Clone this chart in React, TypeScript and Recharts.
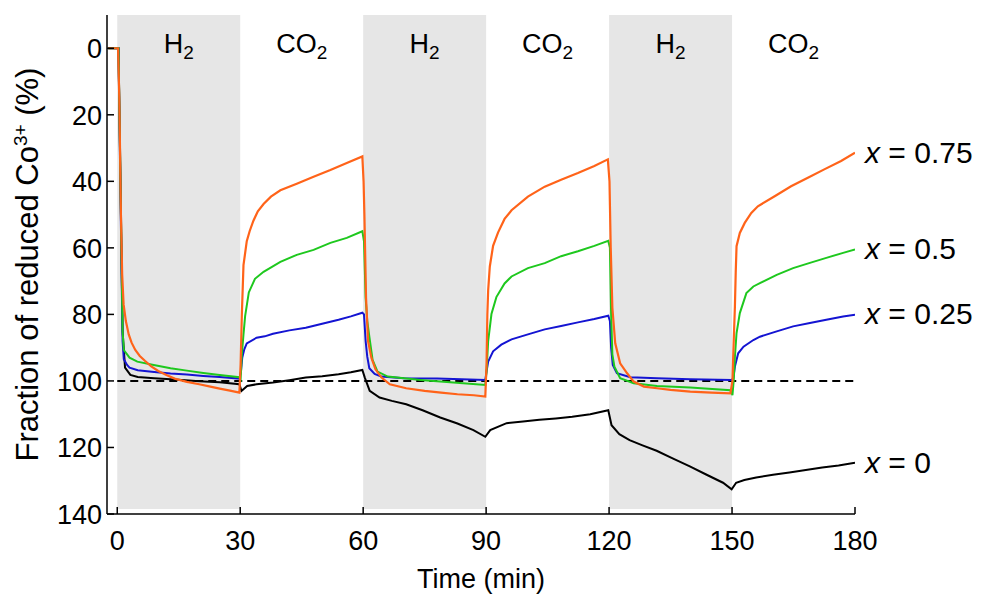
import React from 'react';
import {
  LineChart,
  Line,
  XAxis,
  YAxis,
  ReferenceArea,
  ReferenceLine,
  ReferenceDot,
} from 'recharts';

// time (min), fraction of reduced Co3+ (%)
const x0Series = [
  { t: -2.2, v: 0 }, { t: 0.3, v: 0 }, { t: 0.8, v: 40 }, { t: 1.3, v: 85 }, { t: 1.9, v: 96 },
  { t: 3.2, v: 98.2 }, { t: 5, v: 98.8 }, { t: 9, v: 99.2 }, { t: 14, v: 99.6 }, { t: 20, v: 100.1 },
  { t: 25, v: 100.4 }, { t: 29.8, v: 101 }, { t: 30.3, v: 103 }, { t: 31.7, v: 101.5 }, { t: 34, v: 101 },
  { t: 38, v: 100.5 }, { t: 42, v: 99.8 }, { t: 46, v: 99 }, { t: 50, v: 98.6 }, { t: 54, v: 98 },
  { t: 57, v: 97.4 }, { t: 59.8, v: 96.7 }, { t: 60.4, v: 99 }, { t: 61.6, v: 103 }, { t: 64, v: 105 },
  { t: 67, v: 106 }, { t: 70.5, v: 107 }, { t: 74.5, v: 108.8 }, { t: 78.8, v: 111 }, { t: 83, v: 112.8 },
  { t: 86.9, v: 114.8 }, { t: 89.8, v: 116.8 }, { t: 91, v: 114.8 }, { t: 95, v: 112.7 }, { t: 99, v: 112.2 },
  { t: 103, v: 111.7 }, { t: 107, v: 111.3 }, { t: 111, v: 110.8 }, { t: 115.4, v: 110 }, { t: 119.8, v: 108.8 },
  { t: 120.6, v: 113.3 }, { t: 122.5, v: 116 }, { t: 125, v: 117.8 }, { t: 128, v: 119.3 }, { t: 131.6, v: 121 },
  { t: 135.5, v: 123.3 }, { t: 139.7, v: 125.7 }, { t: 143.8, v: 128.2 }, { t: 147.8, v: 130.6 }, { t: 149.9, v: 132.6 },
  { t: 151, v: 130.6 }, { t: 153, v: 129.8 }, { t: 155.9, v: 129 }, { t: 160, v: 128.2 }, { t: 164, v: 127.5 },
  { t: 168, v: 126.8 }, { t: 172, v: 126 }, { t: 176, v: 125.4 }, { t: 180, v: 124.6 },
];

const x025Series = [
  { t: -2.2, v: 0 }, { t: 0.3, v: 0 }, { t: 0.8, v: 45 }, { t: 1.3, v: 88 }, { t: 1.6, v: 93.5 },
  { t: 2.4, v: 95.2 }, { t: 3, v: 96 }, { t: 5, v: 96.8 }, { t: 9, v: 97.3 }, { t: 13, v: 97.8 },
  { t: 17, v: 98.1 }, { t: 21, v: 98.5 }, { t: 25, v: 98.8 }, { t: 29.8, v: 99.3 },
  { t: 30.2, v: 97 }, { t: 30.5, v: 93 }, { t: 31, v: 90.5 }, { t: 31.6, v: 88.7 }, { t: 34, v: 87 },
  { t: 36, v: 86.6 }, { t: 38, v: 85.8 }, { t: 42, v: 84.8 }, { t: 46, v: 84 }, { t: 50, v: 82.8 },
  { t: 54, v: 81.6 }, { t: 57, v: 80.6 }, { t: 59.8, v: 79.5 },
  { t: 60.2, v: 80 }, { t: 60.6, v: 88 }, { t: 61, v: 92.7 }, { t: 61.5, v: 96.2 }, { t: 62.8, v: 97.9 },
  { t: 64.4, v: 98.7 }, { t: 70, v: 99.2 }, { t: 78, v: 99.3 }, { t: 84, v: 99.5 }, { t: 89.8, v: 99.7 },
  { t: 90.1, v: 97.2 }, { t: 90.5, v: 94.2 }, { t: 91.7, v: 91.1 }, { t: 93.7, v: 89.1 }, { t: 96.2, v: 87.5 },
  { t: 100.2, v: 86 }, { t: 104.3, v: 84.5 }, { t: 108.3, v: 83.5 }, { t: 112.4, v: 82.4 }, { t: 116.4, v: 81.4 },
  { t: 119.8, v: 80.4 },
  { t: 120.2, v: 82 }, { t: 120.5, v: 90 }, { t: 120.9, v: 95.2 }, { t: 121.9, v: 97.7 }, { t: 125.2, v: 98.9 },
  { t: 131.7, v: 99.2 }, { t: 139.8, v: 99.5 }, { t: 149.9, v: 99.7 },
  { t: 150.3, v: 99.2 }, { t: 150.7, v: 95.7 }, { t: 151.5, v: 91.7 }, { t: 152.8, v: 89.7 }, { t: 155.2, v: 87.7 },
  { t: 156.8, v: 86.7 }, { t: 160.9, v: 85.1 }, { t: 164.9, v: 83.6 }, { t: 169, v: 82.6 }, { t: 173, v: 81.6 },
  { t: 177.1, v: 80.6 }, { t: 180, v: 80.1 },
];

const x05Series = [
  { t: -2.2, v: 0 }, { t: 0.3, v: 0 }, { t: 0.8, v: 42 }, { t: 1.3, v: 85 }, { t: 1.6, v: 90.7 },
  { t: 2.4, v: 92 }, { t: 3, v: 93 }, { t: 4.9, v: 94.2 }, { t: 8.9, v: 95.2 }, { t: 13, v: 96.2 },
  { t: 17, v: 96.9 }, { t: 21, v: 97.6 }, { t: 25, v: 98.2 }, { t: 29.8, v: 98.9 },
  { t: 30.1, v: 99.5 }, { t: 30.4, v: 92 }, { t: 30.8, v: 86 }, { t: 31.2, v: 80.5 }, { t: 32.1, v: 73.4 },
  { t: 33.6, v: 69.3 }, { t: 35.7, v: 67.2 }, { t: 39.8, v: 64.2 }, { t: 43.8, v: 62.1 }, { t: 47.9, v: 60.6 },
  { t: 52, v: 58.5 }, { t: 56, v: 57 }, { t: 59.8, v: 55 },
  { t: 60.2, v: 58 }, { t: 60.6, v: 75 }, { t: 61, v: 82 }, { t: 61.5, v: 86.6 }, { t: 62.3, v: 93.7 },
  { t: 63.5, v: 97.2 }, { t: 66, v: 98.7 }, { t: 74, v: 99.7 }, { t: 82, v: 100.5 }, { t: 89.8, v: 101.2 },
  { t: 90.1, v: 97.2 }, { t: 90.5, v: 88 }, { t: 91.3, v: 79.9 }, { t: 92.5, v: 74.8 }, { t: 94.5, v: 70.7 },
  { t: 96.2, v: 68.6 }, { t: 100.2, v: 66.1 }, { t: 104.3, v: 64.6 }, { t: 108.3, v: 62.5 }, { t: 112.4, v: 61 },
  { t: 116.4, v: 59.4 }, { t: 119.8, v: 57.9 },
  { t: 120.2, v: 60 }, { t: 120.5, v: 80 }, { t: 120.8, v: 92 }, { t: 121.3, v: 95.7 }, { t: 122.7, v: 99.2 },
  { t: 126, v: 100.7 }, { t: 131.7, v: 101.5 }, { t: 139.8, v: 102 }, { t: 149.6, v: 102.8 },
  { t: 150.1, v: 104.3 }, { t: 150.4, v: 100 }, { t: 150.7, v: 92.7 }, { t: 151.1, v: 85.6 }, { t: 151.9, v: 79.6 },
  { t: 153.5, v: 73.6 }, { t: 155.2, v: 71.6 }, { t: 156.8, v: 70.6 }, { t: 160.9, v: 68.1 }, { t: 164.9, v: 66.1 },
  { t: 169, v: 64.5 }, { t: 173, v: 63 }, { t: 177.1, v: 61.5 }, { t: 180, v: 60.5 },
];

const x075Series = [
  { t: -2.2, v: 0 }, { t: 0.2, v: 0 }, { t: 0.5, v: 15 }, { t: 0.9, v: 50 }, { t: 1.2, v: 68 },
  { t: 1.55, v: 77 }, { t: 2.1, v: 82 }, { t: 2.8, v: 86 }, { t: 3.5, v: 88.5 }, { t: 4.4, v: 90.7 },
  { t: 5.5, v: 92.5 }, { t: 6.8, v: 94 }, { t: 8.3, v: 95.6 }, { t: 10, v: 97 }, { t: 12, v: 98.2 },
  { t: 14, v: 99.3 }, { t: 17, v: 100.3 }, { t: 20, v: 101 }, { t: 23, v: 101.8 }, { t: 25, v: 102.3 },
  { t: 27.5, v: 102.9 }, { t: 29.8, v: 103.5 },
  { t: 30.1, v: 95 }, { t: 30.4, v: 80 }, { t: 30.8, v: 65.2 }, { t: 31.6, v: 58 }, { t: 32.3, v: 55 },
  { t: 33.2, v: 51.9 }, { t: 34.3, v: 49 }, { t: 35.7, v: 46.8 }, { t: 37.5, v: 44.6 }, { t: 39.8, v: 42.7 },
  { t: 43.8, v: 40.7 }, { t: 47.9, v: 38.6 }, { t: 52, v: 36.6 }, { t: 56, v: 34.5 }, { t: 59.8, v: 32.5 },
  { t: 60.1, v: 40 }, { t: 60.3, v: 50 }, { t: 60.7, v: 75 }, { t: 61.2, v: 88 }, { t: 62, v: 93 },
  { t: 63, v: 96.5 }, { t: 64.5, v: 99 }, { t: 66.5, v: 101 }, { t: 70.5, v: 102.2 }, { t: 75, v: 103 },
  { t: 79, v: 103.5 }, { t: 83, v: 104 }, { t: 87, v: 104.3 }, { t: 89.8, v: 104.7 },
  { t: 90.1, v: 95 }, { t: 90.3, v: 80 }, { t: 90.5, v: 72.7 }, { t: 90.9, v: 65.6 }, { t: 91.7, v: 59.4 },
  { t: 92.9, v: 55.4 }, { t: 94.5, v: 51.3 }, { t: 96.2, v: 48.7 }, { t: 100.2, v: 44.6 }, { t: 104.3, v: 41.6 },
  { t: 108.3, v: 39.5 }, { t: 112.4, v: 37.5 }, { t: 116.4, v: 35.4 }, { t: 119.7, v: 33.4 },
  { t: 120.1, v: 40 }, { t: 120.4, v: 60 }, { t: 120.8, v: 78 }, { t: 121.5, v: 88.7 }, { t: 122.7, v: 94.7 },
  { t: 124.4, v: 97.7 }, { t: 126, v: 100.2 }, { t: 128.5, v: 101.7 }, { t: 131.7, v: 102.2 }, { t: 135, v: 102.7 },
  { t: 139.8, v: 103.2 }, { t: 145, v: 103.5 }, { t: 149.6, v: 103.7 },
  { t: 150.1, v: 100 }, { t: 150.3, v: 92 }, { t: 150.7, v: 77.6 }, { t: 150.9, v: 67.3 }, { t: 151.1, v: 59.5 },
  { t: 151.9, v: 55.5 }, { t: 153.1, v: 52.5 }, { t: 154.7, v: 49.5 }, { t: 156.3, v: 47.5 }, { t: 160.4, v: 44.5 },
  { t: 164.4, v: 41.5 }, { t: 168.5, v: 38.9 }, { t: 172.5, v: 36.4 }, { t: 176.6, v: 33.9 }, { t: 180, v: 31.4 },
];

const gasPeriods = [
  { from: 0, to: 30, gas: 'H', sub: '2' },
  { from: 30, to: 60, gas: 'CO', sub: '2' },
  { from: 60, to: 90, gas: 'H', sub: '2' },
  { from: 90, to: 120, gas: 'CO', sub: '2' },
  { from: 120, to: 150, gas: 'H', sub: '2' },
  { from: 150, to: 180, gas: 'CO', sub: '2' },
];

const seriesLabels = [
  { name: '0.75', at: 31.3 },
  { name: '0.5', at: 59.9 },
  { name: '0.25', at: 79.5 },
  { name: '0', at: 124.4 },
];

const xTicks = [0, 30, 60, 90, 120, 150, 180];
const yTicks = [0, 20, 40, 60, 80, 100, 120, 140];

const FONT = '"Liberation Sans", Arial, sans-serif';
const FS = 27;
const TICK_LEN = 7;
const GAP = 8;

const BottomTick = ({ x, y, payload }: any) => {
  const ay = y - GAP;
  return (
    <g>
      <line x1={x} y1={ay} x2={x} y2={ay - TICK_LEN} stroke="#000" strokeWidth={1.5} />
      <text x={x} y={ay + 36} textAnchor="middle" fontSize={FS} fontFamily={FONT} fill="#000">
        {payload.value}
      </text>
    </g>
  );
};

const TopTick = ({ x, y }: any) => (
  <line x1={x} y1={y} x2={x} y2={y + TICK_LEN} stroke="#000" strokeWidth={1.5} />
);

const LeftTick = ({ x, y, payload }: any) => {
  const ax = x + GAP;
  return (
    <g>
      <line x1={ax} y1={y} x2={ax + TICK_LEN} y2={y} stroke="#000" strokeWidth={1.5} />
      <text x={ax - 5} y={y + 10} textAnchor="end" fontSize={FS} fontFamily={FONT} fill="#000">
        {payload.value}
      </text>
    </g>
  );
};

const RightTick = ({ x, y }: any) => (
  <line x1={x} y1={y} x2={x - TICK_LEN} y2={y} stroke="#000" strokeWidth={1.5} />
);

const GasLabel = ({ viewBox, gas, sub }: any) => {
  const cx = viewBox.x + viewBox.width / 2;
  return (
    <text x={cx} y={viewBox.y + 38} textAnchor="middle" fontSize={27} fontFamily={FONT} fill="#000">
      {gas}
      <tspan fontSize={19} dy={6}>{sub}</tspan>
    </text>
  );
};

const SeriesLabel = ({ viewBox, name }: any) => (
  <text x={viewBox.x + viewBox.width / 2 + 10} y={viewBox.y + viewBox.height / 2 + 11} fontSize={30} fontFamily={FONT} fill="#000">
    <tspan fontStyle="italic">x</tspan> = {name}
  </text>
);

const YTitle = ({ viewBox }: any) => {
  const cx = viewBox.x + 30;
  const cy = viewBox.y + viewBox.height / 2;
  return (
    <text x={cx} y={cy} transform={`rotate(-90, ${cx}, ${cy})`} textAnchor="middle" fontSize={31} fontFamily={FONT} fill="#000">
      Fraction of reduced Co
      <tspan fontSize={19} dy={-11}>3+</tspan>
      <tspan dy={11}> (%)</tspan>
    </text>
  );
};

const XTitle = ({ viewBox }: any) => (
  <text x={viewBox.x + viewBox.width / 2} y={viewBox.y + 74} textAnchor="middle" fontSize={FS} fontFamily={FONT} fill="#000">
    Time (min)
  </text>
);

export default function App() {
  const axisLine = { stroke: '#000', strokeWidth: 1.5 };
  return (
    <div style={{ width: 965, height: 590, fontFamily: FONT }}>
      <LineChart width={965} height={590} margin={{ top: 7, right: 118, bottom: 0, left: 0 }}>
        <XAxis
          dataKey="t"
          type="number"
          domain={[-2.5, 180]}
          ticks={xTicks}
          allowDataOverflow
          height={84}
          tickSize={0}
          tickMargin={GAP}
          tickLine={false}
          axisLine={axisLine}
          tick={(p: any) => <BottomTick {...p} />}
          label={<XTitle />}
        />
        <XAxis
          xAxisId="top"
          orientation="top"
          type="number"
          domain={[-2.5, 180]}
          ticks={xTicks}
          allowDataOverflow
          height={0}
          tickSize={0}
          tickMargin={0}
          tickLine={false}
          axisLine={axisLine}
          tick={(p: any) => <TopTick {...p} />}
        />
        <YAxis
          type="number"
          reversed
          domain={[-10, 140]}
          ticks={yTicks}
          allowDataOverflow
          width={99}
          tickSize={0}
          tickMargin={GAP}
          tickLine={false}
          axisLine={axisLine}
          tick={(p: any) => <LeftTick {...p} />}
          label={<YTitle />}
        />
        <YAxis
          yAxisId="right"
          orientation="right"
          type="number"
          reversed
          domain={[-10, 140]}
          ticks={yTicks}
          allowDataOverflow
          width={0}
          tickSize={0}
          tickMargin={0}
          tickLine={false}
          axisLine={axisLine}
          tick={(p: any) => <RightTick {...p} />}
        />
        {gasPeriods.map((p) => (
          <ReferenceArea
            key={p.from}
            x1={p.from}
            x2={p.to}
            y1={-10}
            y2={138.5}
            fill={p.gas === 'H' ? '#e6e6e6' : '#ffffff'}
            fillOpacity={p.gas === 'H' ? 1 : 0}
            stroke="none"
            label={<GasLabel gas={p.gas} sub={p.sub} />}
          />
        ))}
        <ReferenceLine
          segment={[{ x: 0, y: 100 }, { x: 180, y: 100 }]}
          stroke="#000"
          strokeWidth={2}
          strokeDasharray="8 5"
        />
        <Line data={x0Series} dataKey="v" stroke="#000000" strokeWidth={2} dot={false} isAnimationActive={false} />
        <Line data={x025Series} dataKey="v" stroke="#1414d2" strokeWidth={2} dot={false} isAnimationActive={false} />
        <Line data={x05Series} dataKey="v" stroke="#1ec81e" strokeWidth={2} dot={false} isAnimationActive={false} />
        <Line data={x075Series} dataKey="v" stroke="#ff6319" strokeWidth={2.2} dot={false} isAnimationActive={false} />
        {seriesLabels.map((s) => (
          <ReferenceDot
            key={s.name}
            x={180}
            y={s.at}
            r={1}
            fill="none"
            stroke="none"
            ifOverflow="visible"
            label={<SeriesLabel name={s.name} />}
          />
        ))}
      </LineChart>
    </div>
  );
}
